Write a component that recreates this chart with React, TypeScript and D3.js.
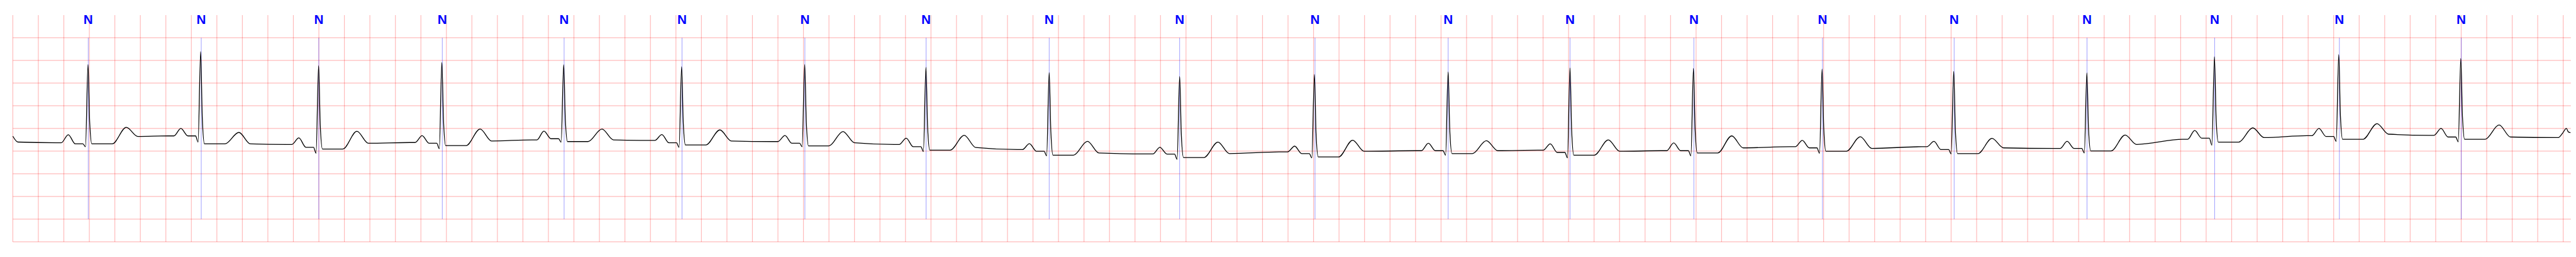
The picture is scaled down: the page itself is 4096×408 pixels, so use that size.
import React, { useEffect, useRef } from "react";
import * as d3 from "d3";

// R peak times (s)
const rPeakTimes = [0.5898, 1.4728, 2.398, 3.3644, 4.3198, 5.2447, 6.2098, 7.1607, 8.1272, 9.1503,
  10.2069, 11.2557, 12.2114, 13.1795, 14.1881, 15.2205, 16.2646, 17.2651, 18.2399, 19.197];

// beat annotations (s) and their symbols
const annTimes = [0.5914, 1.4776, 2.3993, 3.3679, 4.3231, 5.2477, 6.2114, 7.1618, 8.1272, 9.15,
  10.2117, 11.2557, 12.2114, 13.1827, 14.1913, 15.2238, 16.2656, 17.2664, 18.2447, 19.2002];
const annSymbols = ["N", "N", "N", "N", "N", "N", "N", "N", "N", "N",
  "N", "N", "N", "N", "N", "N", "N", "N", "N", "N"];

// per beat levels in mV
const preLevel = [-0.315, -0.164, -0.353, -0.31, -0.252, -0.264, -0.289, -0.353, -0.466, -0.561,
  -0.516, -0.491, -0.478, -0.491, -0.403, -0.403, -0.44, -0.239, -0.159, -0.151];
const pWave = [-0.138, 0.0, -0.209, -0.159, -0.058, -0.134, -0.156, -0.214, -0.335, -0.415,
  -0.39, -0.327, -0.34, -0.319, -0.264, -0.285, -0.285, -0.045, 0.0, 0.0];
const prLevel = [-0.34, -0.164, -0.415, -0.327, -0.227, -0.315, -0.327, -0.403, -0.504, -0.566,
  -0.554, -0.491, -0.529, -0.491, -0.428, -0.466, -0.44, -0.214, -0.176, -0.189];
const qWave = [-0.403, -0.302, -0.546, -0.446, -0.302, -0.415, -0.403, -0.508, -0.604, -0.68,
  -0.647, -0.591, -0.647, -0.604, -0.546, -0.561, -0.542, -0.37, -0.285, -0.295];
const rWave = [1.41, 1.694, 1.384, 1.455, 1.405, 1.362, 1.41, 1.347, 1.231, 1.146,
  1.191, 1.246, 1.335, 1.322, 1.309, 1.259, 1.226, 1.581, 1.629, 1.543];
const shoulder = [0.13, 0.23, 0.061, 0.17, 0.185, 0.119, 0.118, 0.033, -0.081, -0.141,
  -0.119, -0.05, -0.052, -0.02, 0.004, -0.046, -0.014, 0.225, 0.284, 0.26];
const stLevel = [-0.34, -0.34, -0.453, -0.378, -0.289, -0.365, -0.385, -0.478, -0.591, -0.642,
  -0.629, -0.554, -0.591, -0.542, -0.504, -0.554, -0.496, -0.302, -0.239, -0.239];
const tWave = [0.025, -0.088, -0.063, -0.013, -0.013, -0.032, -0.068, -0.151, -0.285, -0.302,
  -0.259, -0.27, -0.252, -0.164, -0.184, -0.219, -0.144, 0.013, 0.106, 0.076];
const postLevel = [-0.176, -0.34, -0.327, -0.277, -0.252, -0.277, -0.315, -0.42, -0.542, -0.554,
  -0.504, -0.491, -0.504, -0.428, -0.44, -0.428, -0.353, -0.202, -0.126, -0.189];

// where each wave point sits relative to the R peak (s)
const waveOffsets = [-0.25, -0.21, -0.155, -0.1, -0.04, -0.02, 0, 0.013, 0.03, 0.19, 0.3, 0.39];

// start and end of the record
const leadTimes = [0, 0.04];
const leadValues = [-0.171, -0.3];
const tailTimes = [19.96, 19.993, 20.025, 20.04, 20.057];
const tailValues = [-0.202, -0.113, 0.0, -0.076, -0.093];

const duration = 20.06;

export default function App() {
  const ref = useRef<SVGSVGElement>(null);

  useEffect(() => {
    const svg = d3.select(ref.current);
    svg.selectAll("*").remove();

    const x = d3.scaleLinear().domain([0, duration]).range([33.8, 7510.7]);
    const y = d3.scaleLinear().domain([-2.5, 2.5]).range([705.7, 44]);

    // ecg paper grid
    const grid = svg.append("g").attr("stroke", "red").attr("stroke-opacity", 0.27).attr("stroke-width", 2.2);
    grid.selectAll(".v")
      .data(d3.range(0, duration, 0.2))
      .enter().append("line")
      .attr("x1", (d) => x(d)).attr("x2", (d) => x(d))
      .attr("y1", y(2.5)).attr("y2", y(-2.5));
    grid.selectAll(".h")
      .data(d3.range(-2.5, 2.5, 0.5))
      .enter().append("line")
      .attr("x1", x(0)).attr("x2", x(duration))
      .attr("y1", (d) => y(d)).attr("y2", (d) => y(d));

    // annotation markers
    svg.append("g").selectAll("line")
      .data(annTimes)
      .enter().append("line")
      .attr("x1", (d) => x(d)).attr("x2", (d) => x(d))
      .attr("y1", y(2)).attr("y2", y(-2))
      .attr("stroke", "blue").attr("stroke-opacity", 0.5).attr("stroke-width", 1.4);

    // build the trace from the beat levels
    const pts: [number, number][] = [];
    leadTimes.forEach((t, i) => pts.push([t, leadValues[i]]));
    rPeakTimes.forEach((r, i) => {
      const vals = [preLevel[i], preLevel[i], pWave[i], prLevel[i], prLevel[i], qWave[i],
        rWave[i], shoulder[i], stLevel[i], stLevel[i], tWave[i], postLevel[i]];
      waveOffsets.forEach((o, k) => pts.push([r + o, vals[k]]));
    });
    tailTimes.forEach((t, i) => pts.push([t, tailValues[i]]));

    const line = d3.line<[number, number]>()
      .x((d) => x(d[0]))
      .y((d) => y(d[1]))
      .curve(d3.curveMonotoneX);

    svg.append("path")
      .datum(pts)
      .attr("d", line)
      .attr("fill", "none")
      .attr("stroke", "black")
      .attr("stroke-width", 2.4)
      .attr("stroke-linejoin", "round");

    // beat labels
    svg.append("g").selectAll("text")
      .data(annTimes)
      .enter().append("text")
      .attr("x", (d) => x(d))
      .attr("y", y(2.3))
      .attr("text-anchor", "middle")
      .attr("fill", "blue")
      .attr("font-family", "Liberation Sans, Arial, sans-serif")
      .attr("font-weight", "bold")
      .attr("font-size", 38)
      .text((d, i) => annSymbols[i]);
  }, []);

  return (
    <svg
      ref={ref}
      width={4096}
      height={408}
      viewBox="0 0 7522 750"
      style={{ position: "absolute", left: 0, top: 0, display: "block", background: "white" }}
    />
  );
}
